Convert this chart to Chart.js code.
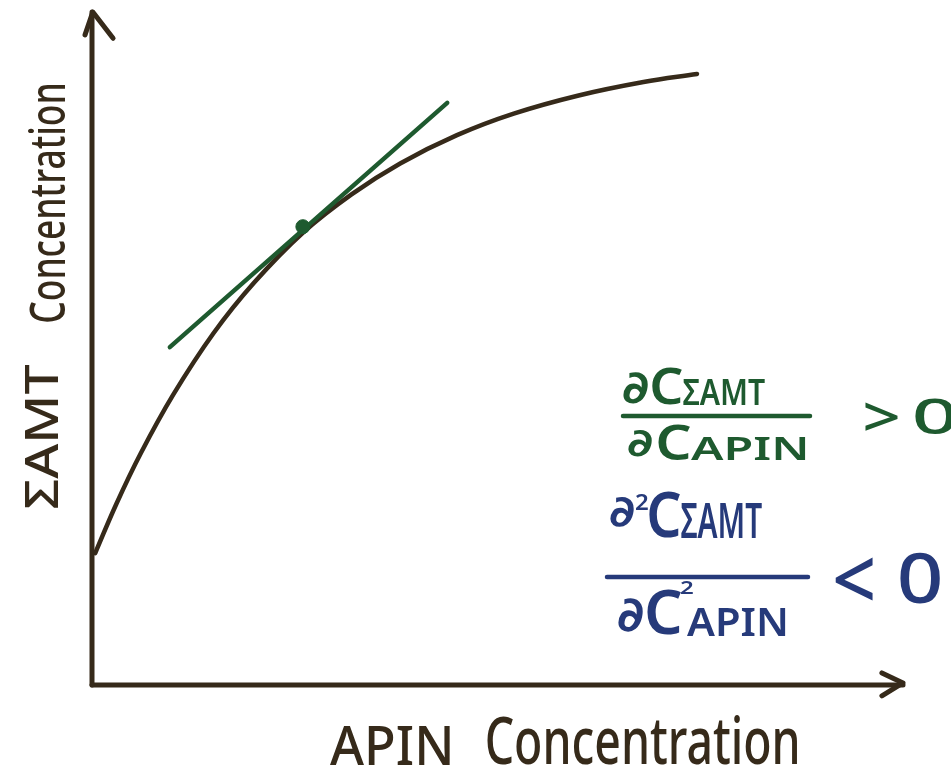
<!DOCTYPE html>
<html>
<head>
<meta charset="utf-8">
<title>ΣAMT vs APIN concentration</title>
<script src="https://cdn.jsdelivr.net/npm/chart.js@4.4.1/dist/chart.umd.min.js"></script>
<style>
  html, body { margin: 0; padding: 0; background: #ffffff; }
  canvas { display: block; }
</style>
</head>
<body>
<canvas id="sketch" width="951" height="768"></canvas>
<script>
// Saturating response of ΣAMT to APIN (arbitrary units, 0–10 on both axes)
const curveX = [0.04, 0.3, 0.6, 1.0, 1.5, 2.0, 2.6, 3.2, 3.8, 4.5, 5.2, 6.0, 6.8, 7.46];
const curveY = [1.96, 2.69, 3.44, 4.31, 5.23, 5.98, 6.72, 7.29, 7.75, 8.17, 8.49, 8.76, 8.96, 9.08];

// Tangent at the marked point (positive slope)
const tangentX = [0.96, 4.38];
const tangentY = [5.02, 8.65];
const pointX = [2.6];
const pointY = [6.81];

// Axes with arrow heads
const yAxisX = [0, 0];
const yAxisY = [0, 10];
const yArrowX = [-0.086, 0.01, 0.26];
const yArrowY = [9.66, 10.0, 9.61];
const xAxisX = [0, 10];
const xAxisY = [0, 0];
const xArrowX = [9.74, 10.0, 9.74];
const xArrowY = [0.18, 0.03, -0.16];

// Labels
const xTitleParts = ['APIN', 'Concentration'];
const yTitleParts = ['ΣAMT', 'Concentration'];

const INK = '#362a1a';
const GREEN = '#1e5a2f';
const BLUE = '#263a7a';

const pts = (xs, ys) => xs.map((x, i) => ({ x, y: ys[i] }));

function lineSet(data, color, width, order) {
  return {
    data, showLine: true, borderColor: color, borderWidth: width,
    pointRadius: 0, pointHoverRadius: 0, fill: false, clip: false,
    borderCapStyle: 'round', borderJoinStyle: 'round', tension: 0, order
  };
}

// Draws a string stretched so its ink fills the given box
function fitText(ctx, str, box, color, opts = {}) {
  const family = opts.family || '"Noto Sans", "DejaVu Sans", sans-serif';
  const weight = opts.weight || 600;
  ctx.save();
  ctx.font = `${weight} 100px ${family}`;
  ctx.textAlign = 'left';
  ctx.textBaseline = 'alphabetic';
  ctx.fillStyle = color;
  const m = ctx.measureText(str);
  const L = m.actualBoundingBoxLeft, R = m.actualBoundingBoxRight;
  const A = m.actualBoundingBoxAscent, D = m.actualBoundingBoxDescent;
  const inkW = L + R, inkH = A + D;
  if (opts.rotate) {
    const sx = (box.y1 - box.y0) / inkW;
    const sy = (box.x1 - box.x0) / inkH;
    ctx.translate(box.x0 + A * sy, box.y1 - L * sx);
    ctx.rotate(-Math.PI / 2);
    ctx.scale(sx, sy);
  } else {
    const sx = (box.x1 - box.x0) / inkW;
    const sy = (box.y1 - box.y0) / inkH;
    ctx.translate(box.x0 + L * sx, box.y0 + A * sy);
    ctx.scale(sx, sy);
  }
  ctx.fillText(str, 0, 0);
  ctx.restore();
}

function bar(ctx, x0, x1, y, color) {
  ctx.save();
  ctx.strokeStyle = color;
  ctx.lineWidth = 4.5;
  ctx.lineCap = 'round';
  ctx.beginPath();
  ctx.moveTo(x0, y);
  ctx.lineTo(x1, y);
  ctx.stroke();
  ctx.restore();
}

const annotations = {
  id: 'annotations',
  afterDatasetsDraw(chart) {
    const ctx = chart.ctx;
    // axis titles
    fitText(ctx, xTitleParts[0], { x0: 330, x1: 450, y0: 725, y1: 765 }, INK, { weight: 500 });
    fitText(ctx, xTitleParts[1], { x0: 487, x1: 797, y0: 715, y1: 765 }, INK, { weight: 500 });
    fitText(ctx, yTitleParts[0], { x0: 25, x1: 58, y0: 365, y1: 508 }, INK, { weight: 500, rotate: true });
    fitText(ctx, yTitleParts[1], { x0: 28, x1: 65, y0: 85, y1: 322 }, INK, { weight: 500, rotate: true });

    // first derivative: ∂CΣAMT / ∂CAPIN > 0
    fitText(ctx, '∂', { x0: 623, x1: 648, y0: 372, y1: 404 }, GREEN);
    fitText(ctx, 'C', { x0: 652, x1: 682, y0: 368, y1: 405 }, GREEN);
    fitText(ctx, 'ΣAMT', { x0: 683, x1: 765, y0: 379, y1: 405 }, GREEN);
    bar(ctx, 623, 810, 416, GREEN);
    fitText(ctx, '∂', { x0: 628, x1: 652, y0: 430, y1: 457 }, GREEN);
    fitText(ctx, 'C', { x0: 658, x1: 690, y0: 425, y1: 460 }, GREEN);
    fitText(ctx, 'APIN', { x0: 691, x1: 805, y0: 437, y1: 460 }, GREEN);
    fitText(ctx, '>', { x0: 865, x1: 898, y0: 402, y1: 431 }, GREEN, { weight: 500 });
    fitText(ctx, '0', { x0: 915, x1: 955, y0: 398, y1: 434 }, GREEN, { weight: 500 });

    // second derivative: ∂²CΣAMT / ∂C²APIN < 0
    fitText(ctx, '∂', { x0: 610, x1: 634, y0: 497, y1: 527 }, BLUE);
    fitText(ctx, '2', { x0: 636, x1: 648, y0: 494, y1: 510 }, BLUE);
    fitText(ctx, 'C', { x0: 649, x1: 680, y0: 492, y1: 538 }, BLUE);
    fitText(ctx, 'ΣAMT', { x0: 681, x1: 762, y0: 503, y1: 538 }, BLUE);
    bar(ctx, 607, 808, 577, BLUE);
    fitText(ctx, '∂', { x0: 618, x1: 643, y0: 598, y1: 632 }, BLUE);
    fitText(ctx, 'C', { x0: 647, x1: 681, y0: 590, y1: 635 }, BLUE);
    fitText(ctx, '2', { x0: 681, x1: 693, y0: 581, y1: 594 }, BLUE);
    fitText(ctx, 'APIN', { x0: 687, x1: 785, y0: 607, y1: 636 }, BLUE);
    fitText(ctx, '<', { x0: 835, x1: 873, y0: 557, y1: 601 }, BLUE, { weight: 500 });
    fitText(ctx, '0', { x0: 900, x1: 940, y0: 553, y1: 604 }, BLUE, { weight: 500 });
  }
};

new Chart(document.getElementById('sketch'), {
  type: 'scatter',
  data: {
    datasets: [
      lineSet(pts(yAxisX, yAxisY), INK, 5, 3),
      lineSet(pts(yArrowX, yArrowY), INK, 5, 3),
      lineSet(pts(xAxisX, xAxisY), INK, 5, 3),
      lineSet(pts(xArrowX, xArrowY), INK, 5, 3),
      Object.assign(lineSet(pts(curveX, curveY), INK, 4.5, 2), { tension: 0.4 }),
      lineSet(pts(tangentX, tangentY), GREEN, 4.5, 1),
      {
        data: pts(pointX, pointY), showLine: false, clip: false, order: 0,
        pointRadius: 7, pointHoverRadius: 7, pointBackgroundColor: GREEN,
        pointBorderColor: GREEN, pointBorderWidth: 1
      }
    ]
  },
  options: {
    responsive: false,
    animation: false,
    events: [],
    layout: { padding: { left: 92, right: 48, top: 12, bottom: 83 } },
    plugins: { legend: { display: false }, tooltip: { enabled: false }, title: { display: false } },
    scales: {
      x: { type: 'linear', min: 0, max: 10, display: false },
      y: { type: 'linear', min: 0, max: 10, display: false }
    }
  },
  plugins: [annotations]
});
</script>
</body>
</html>
